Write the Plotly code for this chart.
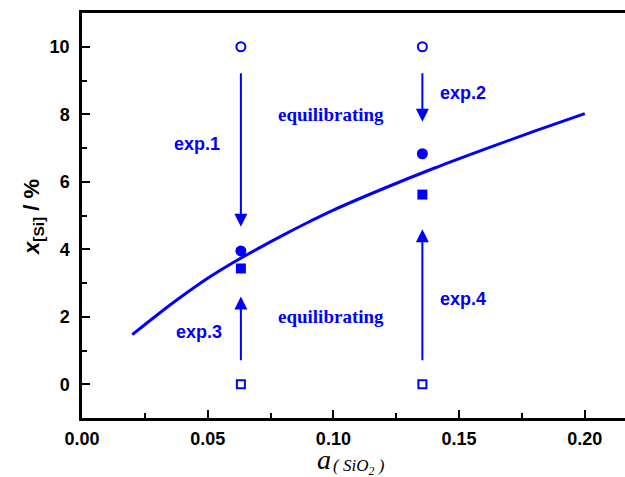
import plotly.graph_objects as go

# Model curve
curve_x = [0.02, 0.03, 0.04, 0.05, 0.06, 0.07, 0.08, 0.09, 0.10, 0.12, 0.14, 0.16, 0.18, 0.20]
curve_y = [1.47, 2.06, 2.62, 3.14, 3.60, 4.02, 4.42, 4.80, 5.16, 5.80, 6.40, 6.96, 7.50, 8.02]

# Experimental points
exp_x = [0.0632, 0.1354]
initial_high = [10.0, 10.0]      # open circles
final_high = [3.95, 6.83]        # filled circles
final_low = [3.43, 5.62]         # filled squares
initial_low = [0.0, 0.0]         # open squares

# Arrows: (x, start y, end y)
arrow_x = [0.0632, 0.1354, 0.0632, 0.1354]
arrow_y0 = [9.26, 9.26, 0.67, 0.67]
arrow_y1 = [4.67, 7.78, 2.6, 4.59]

exp_labels = ["exp.1", "exp.2", "exp.3", "exp.4"]
exp_label_x = [0.0459, 0.1516, 0.0467, 0.1516]
exp_label_y = [7.12, 8.64, 1.56, 2.52]

eq_label_x = [0.0992, 0.0992]
eq_label_y = [8.0, 2.02]

xticks = [0.00, 0.05, 0.10, 0.15, 0.20]
yticks = [0, 2, 4, 6, 8, 10]

BLUE = "#0000FF"

fig = go.Figure()
fig.add_trace(go.Scatter(x=curve_x, y=curve_y, mode="lines", line=dict(color=BLUE, width=3, shape="spline"), showlegend=False))
fig.add_trace(go.Scatter(x=exp_x, y=initial_high, mode="markers",
                         marker=dict(symbol="circle-open", size=9, color=BLUE, line=dict(width=2, color=BLUE)), showlegend=False))
fig.add_trace(go.Scatter(x=exp_x, y=final_high, mode="markers",
                         marker=dict(symbol="circle", size=11, color=BLUE), showlegend=False))
fig.add_trace(go.Scatter(x=exp_x, y=final_low, mode="markers",
                         marker=dict(symbol="square", size=10, color=BLUE), showlegend=False))
fig.add_trace(go.Scatter(x=exp_x, y=initial_low, mode="markers",
                         marker=dict(symbol="square-open", size=8, color=BLUE, line=dict(width=2, color=BLUE)), showlegend=False))

annotations = []
for xa, y0, y1 in zip(arrow_x, arrow_y0, arrow_y1):
    annotations.append(dict(x=xa, y=y1, ax=xa, ay=y0, xref="x", yref="y", axref="x", ayref="y",
                            text="", showarrow=True, arrowhead=2, arrowsize=1.3, arrowwidth=2, arrowcolor=BLUE))
for t, xl, yl in zip(exp_labels, exp_label_x, exp_label_y):
    annotations.append(dict(x=xl, y=yl, xref="x", yref="y", text="<b>" + t + "</b>", showarrow=False,
                            xanchor="center", yanchor="middle",
                            font=dict(family="Liberation Sans, Arial", size=18, color=BLUE)))
for xl, yl in zip(eq_label_x, eq_label_y):
    annotations.append(dict(x=xl, y=yl, xref="x", yref="y", text="<b>equilibrating</b>", showarrow=False,
                            xanchor="center", yanchor="middle",
                            font=dict(family="Liberation Serif, Times New Roman", size=19, color=BLUE)))

# axis titles
annotations.append(dict(x=(33 - 82) / 543, y=(418 - 217) / 405, xref="paper", yref="paper", textangle=-90,
                        showarrow=False, xanchor="center", yanchor="middle",
                        text="<b><i>x</i></b><sub><b>[Si]</b></sub><b> / %</b>",
                        font=dict(family="Liberation Sans, Arial", size=22, color="black")))
annotations.append(dict(x=(324 - 82) / 543, y=(418 - 460) / 405, xref="paper", yref="paper", showarrow=False,
                        xanchor="center", yanchor="middle",
                        text="<i>a</i>", font=dict(family="Liberation Serif, Times New Roman", size=28, color="black")))
annotations.append(dict(x=(331 - 82) / 543, y=(418 - 467) / 405, xref="paper", yref="paper", showarrow=False,
                        xanchor="left", yanchor="middle", text="<i>( SiO<sub>2</sub> )</i>",
                        font=dict(family="Liberation Serif, Times New Roman", size=17, color="black")))

fig.update_layout(
    width=625, height=477,
    margin=dict(l=82, r=0, t=13, b=59),
    paper_bgcolor="white", plot_bgcolor="white",
    annotations=annotations,
    xaxis=dict(range=[0, 0.216], tickvals=xticks, ticktext=[f"<b>{v:.2f}</b>" for v in xticks],
               showgrid=False, zeroline=False, showline=True, linecolor="black", linewidth=2.5, mirror=True,
               ticks="inside", ticklen=8, tickwidth=2, tickcolor="black", ticklabelstandoff=3,
               minor=dict(tickvals=[0.025, 0.075, 0.125, 0.175], ticks="inside", ticklen=5, tickwidth=2, tickcolor="black"),
               tickfont=dict(family="Liberation Sans, Arial", size=18, color="black")),
    yaxis=dict(range=[-1, 11], tickvals=yticks, ticktext=[f"<b>{v}</b>" for v in yticks],
               showgrid=False, zeroline=False, showline=True, linecolor="black", linewidth=2.5, mirror=False,
               ticks="inside", ticklen=8, tickwidth=2, tickcolor="black", ticklabelstandoff=6,
               minor=dict(tickvals=[1, 3, 5, 7, 9], ticks="inside", ticklen=5, tickwidth=2, tickcolor="black"),
               tickfont=dict(family="Liberation Sans, Arial", size=18, color="black")),
)

fig.write_html("out.html")
